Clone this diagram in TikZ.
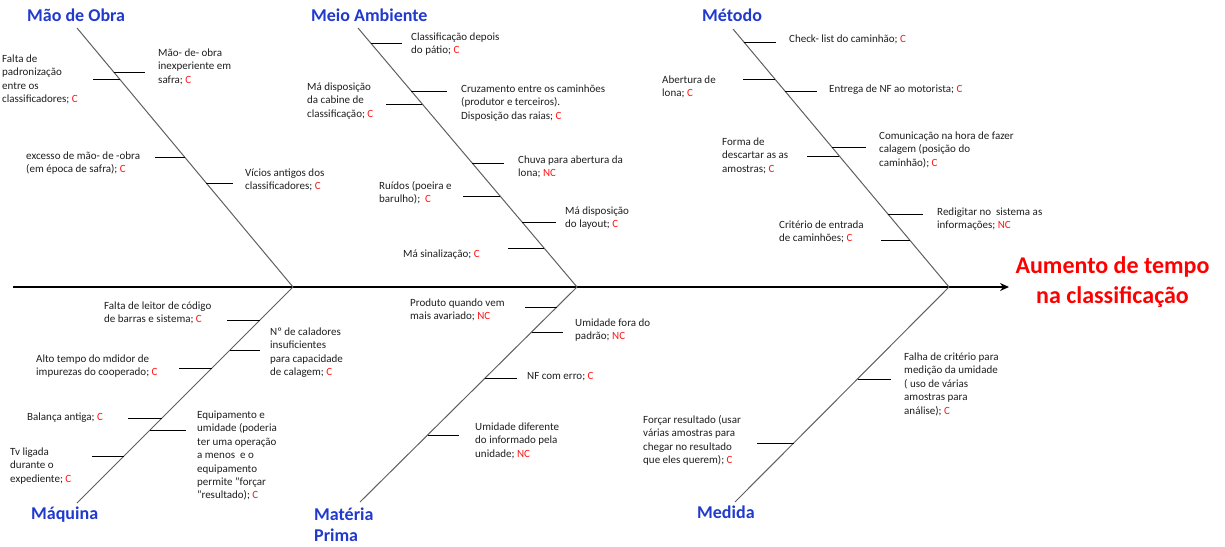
\documentclass[tikz,border=0pt]{standalone}
\usepackage{fontspec}
\setmainfont{Carlito}
\usetikzlibrary{arrows.meta}

\definecolor{catblue}{RGB}{32,58,205}
\definecolor{txt}{RGB}{30,30,30}
\definecolor{rib}{RGB}{95,95,95}
\definecolor{mark}{RGB}{255,20,20}

\newcommand{\causefont}{\fontsize{11}{13.4}\selectfont}
\newcommand{\mkC}{\textcolor{mark}{C}}
\newcommand{\mkNC}{\textcolor{mark}{NC}}
\newcommand{\cbox}[1]{\begin{tabular}[t]{@{}l@{}}#1\end{tabular}}

\tikzset{
  spine/.style={line width=2.2pt, black, -{Stealth[length=9pt,width=8pt]}},
  bone/.style={line width=1pt, rib},
  twig/.style={line width=1pt, black},
  cause/.style={anchor=base west, inner sep=0pt, font=\causefont, text=txt},
  cat/.style={anchor=base west, inner sep=0pt, font=\fontsize{18}{21}\selectfont\bfseries, text=catblue, align=left},
  effect/.style={anchor=base, inner sep=0pt, font=\fontsize{24}{29.5}\selectfont\bfseries, text=red, align=center}
}

\begin{document}
\begin{tikzpicture}[x=1pt,y=-1pt]
\useasboundingbox (0,0) rectangle (1225,546);

% main spine
\coordinate (tail) at (13,287);
\coordinate (head) at (1009,287);
\draw[spine] (tail) -- (head);

% rib end points
\coordinate (moTop) at (77,28);   \coordinate (moJ) at (293,287);
\coordinate (maTop) at (358,28);  \coordinate (maJ) at (577,287);
\coordinate (meTop) at (733,29);  \coordinate (meJ) at (949,287);
\coordinate (mqBot) at (77,503);
\coordinate (mpBot) at (360,502);
\coordinate (mdBot) at (735,502);

\draw[bone] (moTop) -- (moJ);
\draw[bone] (maTop) -- (maJ);
\draw[bone] (meTop) -- (meJ);
\draw[bone] (mqBot) -- (moJ);
\draw[bone] (mpBot) -- (maJ);
\draw[bone] (mdBot) -- (meJ);

% category labels (multi-line nodes sit on the baseline of their last line)
\node[cat] (lMO) at (27,21) {Mão de Obra};
\node[cat] (lMA) at (311,21) {Meio Ambiente};
\node[cat] (lME) at (702,21) {Método};
\node[cat] (lMQ) at (31,519) {Máquina};
\node[cat] (lMP) at (314,541) {Matéria\\Prima};
\node[cat] (lMD) at (697,518) {Medida};

% effect
\node[effect] (eff) at (1112.5,303) {Aumento de tempo\\na classificação};

% ---- Mão de Obra
\coordinate (a1r) at (113.7,72);  \coordinate (a1e) at (145,72);
\coordinate (a2r) at (119.5,79);  \coordinate (a2e) at (93,79);
\coordinate (a3r) at (184.6,157); \coordinate (a3e) at (155,157);
\coordinate (a4r) at (206.3,183); \coordinate (a4e) at (233,183);
\foreach \i in {1,...,4} \draw[twig] (a\i r) -- (a\i e);
\node[cause] (ta1) at (158,56.5) {\cbox{Mão- de- obra\\inexperiente em\\safra; \mkC}};
\node[cause] (ta2) at (2,62.5) {\cbox{Falta de\\padronização\\entre os\\classificadores; \mkC}};
\node[cause] (ta3) at (26,159.5) {\cbox{excesso de mão- de -obra\\(em época de safra); \mkC}};
\node[cause] (ta4) at (245,176.5) {\cbox{Vícios antigos dos\\classificadores; \mkC}};

% ---- Meio Ambiente
\coordinate (b1r) at (370.7,43);  \coordinate (b1e) at (402,43);
\coordinate (b2r) at (411.3,91);  \coordinate (b2e) at (447,91);
\coordinate (b3r) at (422.3,104); \coordinate (b3e) at (386,104);
\coordinate (b4r) at (472.2,163); \coordinate (b4e) at (504,163);
\coordinate (b5r) at (500.1,196); \coordinate (b5e) at (463,196);
\coordinate (b6r) at (522,222);   \coordinate (b6e) at (556,222);
\coordinate (b7r) at (544,248);   \coordinate (b7e) at (508,248);
\foreach \i in {1,...,7} \draw[twig] (b\i r) -- (b\i e);
\node[cause] (tb1) at (411,40.5) {\cbox{Classificação depois\\do pátio; \mkC}};
\node[cause] (tb2) at (461,92.5) {\cbox{Cruzamento entre os caminhões\\(produtor e terceiros).\\Disposição das raias; \mkC}};
\node[cause] (tb3) at (307,90.5) {\cbox{Má disposição\\da cabine de\\classificação; \mkC}};
\node[cause] (tb4) at (518,163.5) {\cbox{Chuva para abertura da\\lona; \mkNC}};
\node[cause] (tb5) at (379,189.5) {\cbox{Ruídos (poeira e\\barulho);\ \ \mkC}};
\node[cause] (tb6) at (565,214.5) {\cbox{Má disposição\\do layout; \mkC}};
\node[cause] (tb7) at (403,257.5) {\cbox{Má sinalização; \mkC}};

% ---- Método
\coordinate (c1r) at (743.9,42);  \coordinate (c1e) at (776,42);
\coordinate (c2r) at (774.9,79);  \coordinate (c2e) at (743,79);
\coordinate (c3r) at (784.9,91);  \coordinate (c3e) at (817,91);
\coordinate (c4r) at (831.8,147); \coordinate (c4e) at (866,147);
\coordinate (c5r) at (839.3,156); \coordinate (c5e) at (807,156);
\coordinate (c6r) at (887.8,214); \coordinate (c6e) at (923,214);
\coordinate (c7r) at (909.6,240); \coordinate (c7e) at (881,240);
\foreach \i in {1,...,7} \draw[twig] (c\i r) -- (c\i e);
\node[cause] (tc1) at (789,42.5) {\cbox{Check- list do caminhão; \mkC}};
\node[cause] (tc2) at (662,83.5) {\cbox{Abertura de\\lona; \mkC}};
\node[cause] (tc3) at (829,92.5) {\cbox{Entrega de NF ao motorista; \mkC}};
\node[cause] (tc4) at (879,139.5) {\cbox{Comunicação na hora de fazer\\calagem (posição do\\caminhão); \mkC}};
\node[cause] (tc5) at (722,145.5) {\cbox{Forma de\\descartar as as\\amostras; \mkC}};
\node[cause] (tc6) at (937,215.5) {\cbox{Redigitar no\ \ sistema as\\informações; \mkNC}};
\node[cause] (tc7) at (779,228.5) {\cbox{Critério de entrada\\de caminhões; \mkC}};

% ---- Máquina
\coordinate (d1r) at (260,320); \coordinate (d1e) at (227,320);
\coordinate (d2r) at (230,350); \coordinate (d2e) at (260,350);
\coordinate (d3r) at (212,368); \coordinate (d3e) at (179,368);
\coordinate (d4r) at (162,418); \coordinate (d4e) at (128,418);
\coordinate (d5r) at (150,430); \coordinate (d5e) at (186,430);
\coordinate (d6r) at (124,456); \coordinate (d6e) at (92,456);
\foreach \i in {1,...,6} \draw[twig] (d\i r) -- (d\i e);
\node[cause] (td1) at (104,309.5) {\cbox{Falta de leitor de código\\de barras e sistema; \mkC}};
\node[cause] (td2) at (270,335.5) {\cbox{Nº de caladores\\insuficientes\\para capacidade\\de calagem; \mkC}};
\node[cause] (td3) at (36,362.5) {\cbox{Alto tempo do mdidor de\\impurezas do cooperado; \mkC}};
\node[cause] (td4) at (27,420.5) {\cbox{Balança antiga; \mkC}};
\node[cause] (td5) at (197,418.5) {\cbox{Equipamento e\\umidade (poderia\\ter uma operação\\a menos\ \ e o\\equipamento\\permite "forçar\\"resultado); \mkC}};
\node[cause] (td6) at (10,455.5) {\cbox{Tv ligada\\durante o\\expediente; \mkC}};

% ---- Matéria Prima
\coordinate (e1r) at (556.8,307); \coordinate (e1e) at (525,307);
\coordinate (e2r) at (531.6,332); \coordinate (e2e) at (563,332);
\coordinate (e3r) at (485.2,378); \coordinate (e3e) at (517,378);
\coordinate (e4r) at (427.7,435); \coordinate (e4e) at (459,435);
\foreach \i in {1,...,4} \draw[twig] (e\i r) -- (e\i e);
\node[cause] (te1) at (410,306.5) {\cbox{Produto quando vem\\mais avariado; \mkNC}};
\node[cause] (te2) at (575,326.5) {\cbox{Umidade fora do\\padrão; \mkNC}};
\node[cause] (te3) at (527,379.5) {\cbox{NF com erro; \mkC}};
\node[cause] (te4) at (475,430.5) {\cbox{Umidade diferente\\do informado pela\\unidade; \mkNC}};

% ---- Medida
\coordinate (f1r) at (857.5,379); \coordinate (f1e) at (891,379);
\coordinate (f2r) at (793.8,443); \coordinate (f2e) at (757,443);
\foreach \i in {1,2} \draw[twig] (f\i r) -- (f\i e);
\node[cause] (tf1) at (904,360.5) {\cbox{Falha de critério para\\medição da umidade\\( uso de várias\\amostras para\\análise); \mkC}};
\node[cause] (tf2) at (643,423.5) {\cbox{Forçar resultado (usar\\várias amostras para\\chegar no resultado\\que eles querem); \mkC}};

\end{tikzpicture}
\end{document}
